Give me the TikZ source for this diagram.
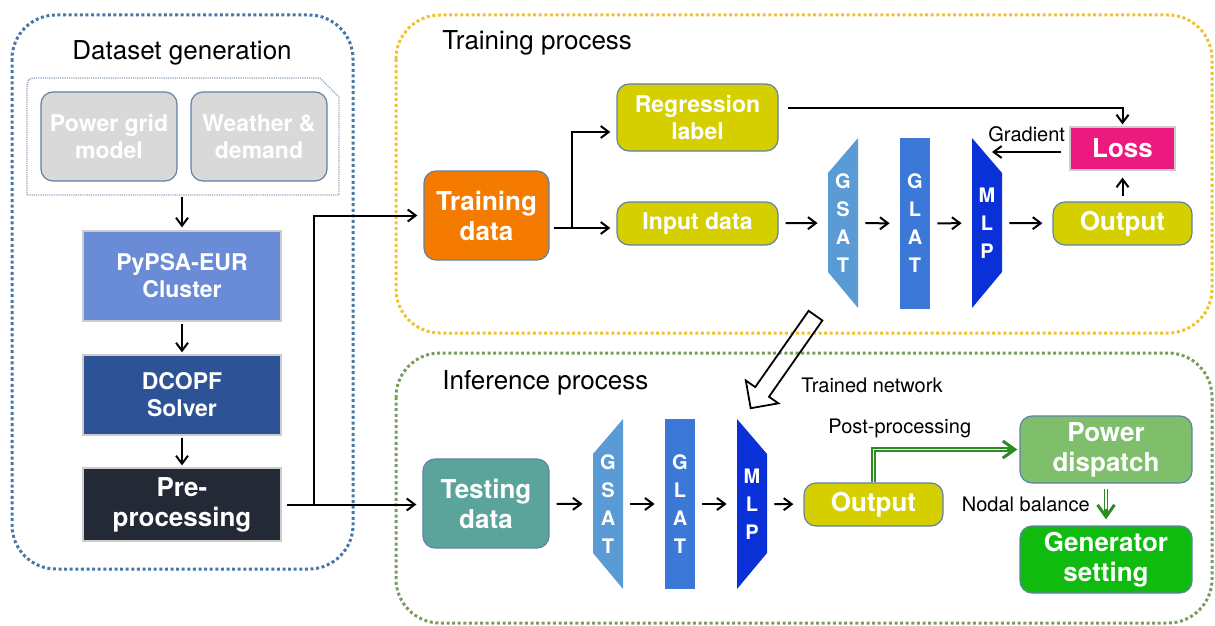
\documentclass[tikz,border=0pt]{standalone}
\usepackage{fontspec}
\setmainfont{TeX Gyre Heros}
\usetikzlibrary{arrows.meta,shapes.arrows}

\definecolor{dsblue}{HTML}{4878A8}
\definecolor{tryellow}{HTML}{F2C12E}
\definecolor{infgreen}{HTML}{7C9C5E}
\definecolor{edgeblue}{HTML}{5F82A8}
\definecolor{greyfill}{HTML}{D9D9D9}
\definecolor{pypsablue}{HTML}{6A8BD6}
\definecolor{dcopfblue}{HTML}{2D5296}
\definecolor{predark}{HTML}{232A35}
\definecolor{trorange}{HTML}{F47B00}
\definecolor{olive}{HTML}{D6CF00}
\definecolor{losspink}{HTML}{EC1A7E}
\definecolor{testteal}{HTML}{5BA49C}
\definecolor{powgreen}{HTML}{7FBF6B}
\definecolor{gengreen}{HTML}{10BB10}
\definecolor{gsatblue}{HTML}{5B9BD5}
\definecolor{glatblue}{HTML}{3C78D8}
\definecolor{mlpblue}{HTML}{0A30D8}
\definecolor{arrowgreen}{HTML}{2A8C22}

\begin{document}
\begin{tikzpicture}[x=0.5pt,y=-0.5pt,
    flow/.style={line width=1pt,-{Straight Barb[length=4pt,width=6pt]},shorten >=3pt},
    netflow/.style={flow,shorten <=3.5pt,shorten >=5pt},
    greenflow/.style={draw=arrowgreen,line width=2.3pt,
        -{Straight Barb[length=6pt,width=8.5pt,line width=1.5pt]}},
    greencore/.style={draw=white,line width=0.9pt,shorten >=5pt},
    frame/.style={line width=1.5pt,dash pattern=on 1.5pt off 1.3pt,rounded corners=22pt},
    title/.style={font=\fontsize{13}{15}\selectfont,inner sep=0pt},
    smalllabel/.style={font=\fontsize{10}{12}\selectfont,inner sep=1pt},
    box/.style={rectangle,align=center,text=white,inner sep=2pt,
        font=\bfseries\fontsize{11.5}{13.5}\selectfont},
    bigbox/.style={box,font=\bfseries\fontsize{13}{15}\selectfont},
    rbox/.style={rounded corners=6pt,draw=edgeblue,line width=0.6pt},
    sbox/.style={draw=black!20,line width=0.6pt},
    layer/.style={minimum width=15pt,minimum height=85pt,inner sep=0pt,align=center,
        text=white,font=\bfseries\fontsize{10}{14}\selectfont},
    gsatlayer/.style={layer,path picture={\fill[gsatblue]
        (path picture bounding box.north east) -- (path picture bounding box.south east)
        -- ([yshift=18pt]path picture bounding box.south west)
        -- ([yshift=-17.5pt]path picture bounding box.north west) -- cycle;}},
    glatlayer/.style={layer,fill=glatblue},
    mlplayer/.style={layer,path picture={\fill[mlpblue]
        (path picture bounding box.north west) -- (path picture bounding box.south west)
        -- ([yshift=18pt]path picture bounding box.south east)
        -- ([yshift=-17.5pt]path picture bounding box.north east) -- cycle;}},
    bigarrow/.style={single arrow,draw,line width=0.9pt,inner sep=3.75pt,
        minimum height=56.5pt,minimum width=19pt,single arrow head extend=5.75pt}]

\useasboundingbox (0,0) rectangle (1215,626);

% frames
\draw[frame,draw=dsblue] (12,15) rectangle (353,569);
\draw[frame,draw=tryellow] (396,15) rectangle (1212,333);
\draw[frame,draw=infgreen] (396,353) rectangle (1212,623);
\draw[draw=edgeblue!70,line width=0.7pt,dash pattern=on 0.6pt off 0.5pt]
    (27,195) -- (27,92) .. controls (27,78) .. (41,78) -- (320,78) -- (339,97) -- (339,195) -- cycle;

\node[title] (dstitle) at (182,53) {Dataset generation};
\node[title,anchor=west] (trtitle) at (442,43) {Training process};
\node[title,anchor=west] (intitle) at (442,383) {Inference process};

% dataset generation
\node[box,rbox,fill=greyfill,minimum width=68pt,minimum height=44.5pt] (grid) at (109,136.5) {Power grid\\model};
\node[box,rbox,fill=greyfill,minimum width=68pt,minimum height=44.5pt] (weather) at (259,136.5) {Weather \&\\demand};
\coordinate (infoot) at (182,197);
\node[box,sbox,fill=pypsablue,minimum width=99pt,minimum height=45pt] (pypsa) at (182,276) {PyPSA-EUR\\Cluster};
\node[box,sbox,fill=dcopfblue,minimum width=99pt,minimum height=40pt] (dcopf) at (182,395) {DCOPF\\Solver};
\node[bigbox,sbox,fill=predark,minimum width=99pt,minimum height=36.5pt] (pre) at (182,504.5) {Pre-\\processing};

\draw[flow,shorten >=1.5pt] (infoot) -- (pypsa.north);
\draw[flow,shorten <=1pt,shorten >=1pt] (pypsa.south) -- (dcopf.north);
\draw[flow,shorten <=1pt,shorten >=1pt] (dcopf.south) -- (pre.north);

% training process
\node[bigbox,rbox,fill=trorange,minimum width=62.5pt,minimum height=44.5pt] (train) at (486.5,215.5) {Training\\data};
\node[box,rbox,fill=olive,minimum width=80.5pt,minimum height=33.5pt] (reg) at (697.5,117.5) {Regression\\label};
\node[box,rbox,fill=olive,minimum width=80.5pt,minimum height=21.5pt] (input) at (697.5,223.5) {Input data};
\node[gsatlayer] (tgsat) at (843,223) {G\\S\\A\\T};
\node[glatlayer] (tglat) at (915,223.5) {G\\L\\A\\T};
\node[mlplayer] (tmlp) at (987,223) {M\\L\\P};
\node[bigbox,rbox,fill=olive,minimum width=69.5pt,minimum height=21.5pt] (tout) at (1122.5,223.5) {Output};
\node[bigbox,sbox,fill=losspink,minimum width=52.5pt,minimum height=21.5pt] (loss) at (1122.5,148.5) {Loss};
\coordinate (tsplit) at (572,228);
\coordinate (gradend) at (992,152);

\draw[flow,shorten <=2pt] ([yshift=-6.25pt]train.east) -- ([yshift=-2.25pt]input.west);
\draw[flow] (tsplit) |- ([yshift=-7.25pt]reg.west);
\draw[netflow] (input) -- (tgsat);
\draw[netflow] (tgsat) -- (tglat);
\draw[netflow] (tglat) -- (tmlp);
\draw[netflow] (tmlp) -- (tout);
\draw[flow,shorten <=2.5pt,shorten >=3.5pt] (tout.north) -- (loss.south);
\draw[flow,shorten <=4.5pt,shorten >=1pt] ([yshift=4.5pt]reg.east) -| (loss.north);
\draw[flow,shorten <=4pt,shorten >=0pt] ([yshift=-1.75pt]loss.west) -- (gradend)
    node[midway,above=3.8pt,xshift=-2pt,smalllabel] {Gradient};

% inference process
\node[bigbox,rbox,fill=testteal,minimum width=63pt,minimum height=44.5pt] (test) at (486,503.5) {Testing\\data};
\node[gsatlayer] (igsat) at (608,504) {G\\S\\A\\T};
\node[glatlayer] (iglat) at (680,504) {G\\L\\A\\T};
\node[mlplayer] (imlp) at (752,504) {M\\L\\P};
\node[bigbox,rbox,fill=olive,minimum width=69.5pt,minimum height=21.5pt] (iout) at (873.5,504.5) {Output};
\node[bigbox,rbox,fill=powgreen,minimum width=86pt,minimum height=33.5pt] (power) at (1106,449.5) {Power\\dispatch};
\node[bigbox,rbox,fill=gengreen,minimum width=86pt,minimum height=33.5pt] (gen) at (1106,559.5) {Generator\\setting};

\draw[netflow] (test) -- (igsat);
\draw[netflow] (igsat) -- (iglat);
\draw[netflow] (iglat) -- (imlp);
\draw[netflow] (imlp) -- (iout);
\draw[greenflow,shorten >=1pt] (iout.north) |- (power.west)
    node[pos=0.59,above=3.8pt,smalllabel,text=black] {Post-processing};
\draw[greencore,shorten >=6pt] (iout.north) |- (power.west);
\draw[greenflow,shorten <=2.5pt,shorten >=3pt] (power.south) -- (gen.north)
    node[midway,left=6pt,smalllabel,text=black] {Nodal balance};
\draw[greencore,shorten <=2.5pt,shorten >=8pt] (power.south) -- (gen.north);

% links between stages
\coordinate (psplit) at (314,504);
\draw[flow,shorten <=2.5pt] (pre.east) -- (pre.east -| test.west);
\draw[flow] (psplit) |- (train.west);
\node[bigarrow,rotate=235] (trained) at (785.5,358.5) {};
\node[smalllabel,anchor=west] (trainedlbl) at (799,385) {Trained network};

\end{tikzpicture}
\end{document}
